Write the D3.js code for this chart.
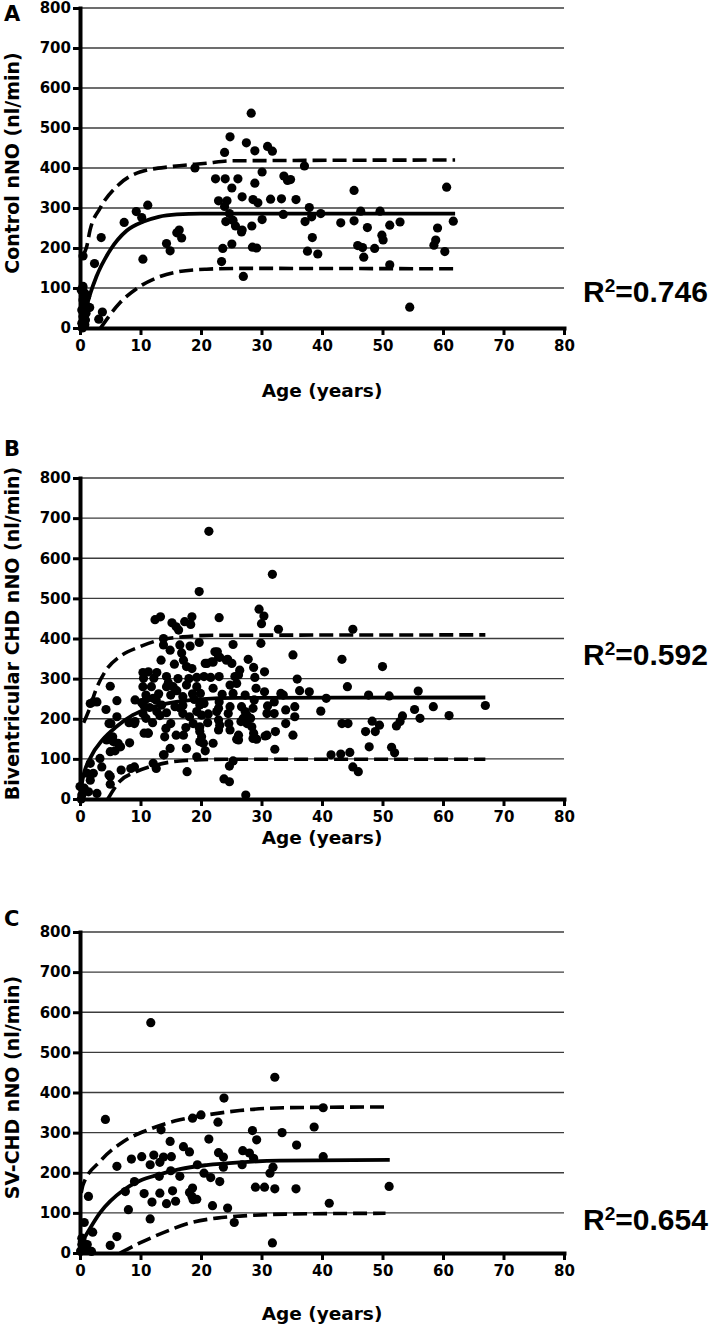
<!DOCTYPE html>
<html>
<head>
<meta charset="utf-8">
<script src="https://cdn.jsdelivr.net/npm/d3@7"></script>
<style>
  html, body { margin: 0; padding: 0; background: #fff; }
  svg { display: block; }
</style>
</head>
<body>
<svg id="chart" width="709" height="1327"></svg>
<script>
// ---------------- DATA ----------------
const xTicks = [0, 10, 20, 30, 40, 50, 60, 70, 80];
const yTicks = [0, 100, 200, 300, 400, 500, 600, 700, 800];
const panelLetters = ["A", "B", "C"];
const yTitles = ["Control nNO (nl/min)", "Biventricular CHD nNO (nl/min)", "SV-CHD nNO (nl/min)"];
const xTitle = "Age (years)";
const r2Values = ["0.746", "0.592", "0.654"];

// Panel A: Control  [age, nNO]
const controlPoints = [
  [28.3,537],[24.8,478],[27.5,463],[23.9,439],[28.9,443],[31.0,454],[31.8,442],[19.0,400],[37.1,405],
  [22.4,373],[24.0,373],[26.1,373],[25.1,350],[28.9,362],[30.1,390],[33.7,380],[34.3,369],[34.8,371],
  [22.9,318],[24.3,318],[23.9,304],[26.8,328],[28.6,321],[29.4,313],[31.5,322],[33.3,323],[35.7,321],
  [24.7,286],[25.3,269],[24.1,266],[25.7,255],[26.8,245],[26.7,240],[28.4,255],[30.1,271],[33.6,284],
  [23.6,199],[25.1,210],[28.5,202],[29.2,200],[23.4,166],[27.0,129],[37.2,266],[37.9,301],[38.3,278],
  [38.4,226],[37.6,192],[39.3,185],[39.8,286],[43.1,263],[45.3,344],[45.3,268],[46.4,292],[45.9,206],
  [46.7,201],[46.9,177],[47.5,251],[48.7,199],[49.6,292],[49.9,232],[50.1,220],[51.2,158],[51.2,257],
  [52.9,265],[54.5,52],[58.5,207],[58.8,220],[59.1,250],[60.3,191],[60.6,352],[61.7,267],
  [7.3,264],[9.3,291],[10.2,276],[11.2,307],[10.4,172],[14.3,211],[14.9,193],[16.0,238],[16.4,245],
  [16.8,225],[2.4,161],[3.5,226],[1.6,51],[3.1,22],[3.7,40],[0.5,180],[0.5,104],[0.8,87],[0.5,70],
  [1.2,54],[0.5,29],[0.3,12],[0.8,8],[1.0,37],[0.4,0],[1.1,79],[0.2,95],[0.6,60],[0.3,45],[0.9,20]
];
const controlFit   = [[0,0],[0.6,20],[1.2,60],[2.7,128],[5.0,195],[7.7,243],[10.5,266],[13,278],[16,284],[20,286],[62,286]];
const controlUpper = [[0.4,180],[1.1,203],[1.65,244],[3.3,299],[6.6,361],[9.9,390],[15.4,404],[20.9,412],[25,418],[62,420]];
const controlLower = [[3.4,0],[6.6,63],[9.9,104],[12.6,125],[16.4,141],[20.9,147],[26.4,149],[62,148]];

// Panel B: Biventricular CHD
const biventricularPoints = [
  [21.3,667],[31.8,560],[19.7,517],[29.6,473],[30.4,456],[30.0,437],[32.8,423],[45.1,423],[23.0,452],
  [18.5,454],[12.4,447],[13.3,454],[15.2,439],[15.9,429],[17.3,442],[18.3,435],[16.3,421],[13.8,400],
  [19.7,390],[25.3,385],[29.9,388],[13.8,384],[14.9,371],[16.5,384],[18.2,381],[22.7,367],[24.4,348],
  [23.1,353],[35.2,359],[43.3,348],[50.0,330],[28.7,328],[27.8,348],[13.4,346],[16.8,364],[17.1,346],
  [17.6,330],[18.5,325],[21.0,338],[22.0,341],[15.6,336],[30.5,317],[26.4,321],[35.9,299],[10.4,315],
  [11.3,317],[12.7,315],[10.5,301],[12.2,301],[14.3,305],[19.3,303],[20.5,305],[21.6,303],[23.0,305],
  [25.6,305],[28.9,303],[5.0,281],[10.4,280],[14.3,280],[15.4,280],[17.6,284],[19.3,280],[22.0,276],
  [24.8,284],[25.9,288],[29.1,276],[30.5,267],[36.3,270],[37.9,267],[44.2,280],[55.9,269],[10.9,259],
  [12.1,251],[15.0,259],[17.0,255],[19.9,263],[23.5,261],[25.3,263],[27.3,259],[33.2,263],[33.6,259],
  [40.7,251],[47.7,259],[51.1,257],[9.1,247],[12.6,247],[18.9,248],[23.0,242],[28.8,247],[32.1,242],
  [2.2,242],[1.7,238],[6.1,245],[2.8,242],[4.3,223],[10.5,234],[13.5,234],[15.7,230],[17.0,233],
  [19.8,234],[20.5,238],[22.9,226],[24.8,230],[26.7,230],[31.0,232],[35.5,230],[34.0,222],[39.8,219],
  [55.3,223],[58.4,230],[10.4,213],[12.7,218],[14.3,215],[17.0,213],[19.3,218],[20.1,209],[21.2,212],
  [22.6,218],[24.5,213],[27.3,218],[30.9,213],[32.1,213],[35.5,205],[53.3,207],[61.0,208],[56.2,201],
  [52.9,193],[9.1,193],[10.9,201],[5.1,188],[6.1,205],[8.1,190],[9.0,188],[18.1,205],[18.7,188],
  [19.7,178],[21.1,190],[22.9,197],[23.1,184],[24.6,188],[26.6,193],[27.6,188],[28.2,201],[43.3,188],
  [44.3,188],[48.3,194],[34.0,188],[49.5,184],[52.3,182],[10.6,164],[11.3,164],[14.2,176],[15.0,188],
  [15.9,159],[17.1,159],[19.8,168],[22.9,172],[24.8,172],[28.4,180],[28.7,164],[29.2,149],[30.9,159],
  [32.3,168],[35.2,159],[47.2,168],[48.8,168],[26.2,159],[26.2,147],[22.0,139],[19.8,143],[20.4,139],
  [17.6,126],[14.9,126],[20.7,120],[19.3,105],[13.8,110],[32.2,124],[41.5,110],[43.1,112],[44.6,116],
  [47.8,130],[51.5,129],[52.0,115],[5.5,143],[4.4,147],[6.3,139],[6.7,130],[5.0,118],[5.8,120],
  [8.2,140],[3.3,101],[3.6,80],[1.7,89],[1.2,64],[2.2,64],[1.7,47],[1.4,18],[2.8,14],[0.7,27],
  [0.3,10],[0.0,31],[6.8,72],[8.4,76],[9.0,80],[5.0,56],[5.0,37],[12.1,89],[12.6,76],[17.7,68],
  [24.7,82],[23.8,50],[24.7,43],[27.4,10],[45.1,80],[46.0,68],[25.3,95],[67.0,233],[4.8,188],
  [5.4,155],[4.8,60],[13.9,110],[11.2,164],[0.2,0],
  [20.7,338],[21.8,342],[22.3,367],[22.9,354],[24.2,346],[25.1,338],[26.2,309],[27.6,209],[27.0,201],
  [28.6,226],[30.6,157],[28.6,151],[25.9,149],[20.1,155],[19.8,180],
  [10.2,240],[11.5,228],[13.0,262],[14.6,290],[16.2,300],[11.8,280],[13.2,208],[16.0,270],[18.0,300],
  [12.0,190],[17.5,178],[14.0,155],[16.6,226],[18.6,262],[11.0,250]
];
const biventricularFit   = [[0,0],[0.4,47],[1.8,105],[3.7,147],[6.0,180],[8.7,209],[12.0,229],[15.9,242],[20.2,249],[26,252],[67,253]];
const biventricularUpper = [[0.6,190],[1.5,222],[2.6,271],[4.3,321],[6.5,354],[9.8,379],[13.1,396],[17,404],[22,408],[67,409]];
const biventricularLower = [[4.6,0],[6.5,43],[9.3,68],[12.6,85],[17.5,96],[24,99],[67,99]];

// Panel C: SV-CHD
const svPoints = [
  [11.7,574],[32.2,438],[23.8,386],[4.2,333],[40.2,362],[38.7,314],[33.4,300],[13.4,307],[28.5,305],
  [22.8,326],[18.6,336],[20.0,344],[35.8,269],[29.2,282],[21.3,284],[14.9,278],[17.1,265],[18.1,252],
  [22.9,250],[23.7,239],[26.9,255],[28.0,249],[28.7,236],[40.2,240],[6.1,216],[8.5,234],[10.2,240],
  [12.2,244],[11.6,220],[13.2,226],[13.8,239],[15.1,240],[15.0,205],[13.1,191],[16.5,191],[19.4,220],
  [20.5,199],[21.6,188],[23.7,214],[23.1,178],[26.8,220],[31.4,199],[31.9,214],[9.0,178],[10.6,148],
  [13.2,149],[15.3,155],[15.8,129],[14.3,123],[11.9,127],[18.1,151],[18.6,162],[18.5,141],[18.7,133],
  [19.3,134],[11.6,85],[21.9,118],[24.4,112],[25.5,76],[29.0,164],[30.5,164],[32.2,160],[35.7,160],
  [41.2,124],[51.1,166],[31.8,25],[7.5,153],[8.0,108],[6.1,41],[5.0,19],[1.4,141],[0.7,76],[2.1,52],
  [1.9,4],[1.2,21],[0.3,37],[0.3,21],[0.8,10],[0.1,5],[0.4,28]
];
const svFit   = [[0,20],[1,45],[3.3,100],[7.2,157],[9.9,180],[13.2,196],[16.5,209],[20.9,219],[26.4,226],[33,230],[51.2,232]];
const svUpper = [[0.2,150],[0.5,170],[3.3,228],[7.2,278],[11.6,309],[16.5,332],[20.9,344],[26.4,355],[33.6,362],[50.5,364]];
const svLower = [[6.6,0],[9.9,25],[14.3,54],[18.2,75],[22.6,87],[26.4,92],[34,97],[50.5,99]];

// ---------------- LAYOUT ----------------
const svg = d3.select("#chart");
const tickFont = "'DejaVu Sans', sans-serif";
const x = d3.scaleLinear().domain([0, 80]).range([80, 564]);

const panels = [
  { points: controlPoints, fit: controlFit, upper: controlUpper, lower: controlLower,
    top: 8, bottom: 328, letterY: 21, xTitleY: 397, r2Y: 302 },
  { points: biventricularPoints, fit: biventricularFit, upper: biventricularUpper, lower: biventricularLower,
    top: 478, bottom: 799, letterY: 456, xTitleY: 844, r2Y: 665 },
  { points: svPoints, fit: svFit, upper: svUpper, lower: svLower,
    top: 932, bottom: 1253, letterY: 926, xTitleY: 1320, r2Y: 1230 }
];

panels.forEach((p, i) => {
  const g = svg.append("g");
  const y = d3.scaleLinear().domain([0, 800]).range([p.bottom, p.top]);

  // gridlines
  g.append("g").selectAll("line").data(yTicks.filter(d => d > 0)).join("line")
    .attr("x1", x(0)).attr("x2", x(80))
    .attr("y1", d => y(d)).attr("y2", d => y(d))
    .attr("stroke", "#3c3c3c").attr("stroke-width", 1.3);

  // points
  g.append("g").selectAll("circle").data(p.points).join("circle")
    .attr("cx", d => x(d[0])).attr("cy", d => y(d[1])).attr("r", 4.6)
    .attr("fill", "#000");

  // fit lines
  const line = d3.line().x(d => x(d[0])).y(d => y(d[1])).curve(d3.curveMonotoneX);
  g.append("path").datum(p.fit).attr("d", line)
    .attr("fill", "none").attr("stroke", "#000").attr("stroke-width", 3.8);
  [p.upper, p.lower].forEach(arr => {
    g.append("path").datum(arr).attr("d", line)
      .attr("fill", "none").attr("stroke", "#000").attr("stroke-width", 3.6)
      .attr("stroke-dasharray", "14,6");
  });

  // axes
  const yAxis = d3.axisLeft(y).tickValues(yTicks).tickSize(7).tickSizeOuter(0).tickPadding(2);
  const ya = g.append("g").attr("transform", `translate(${x(0)},0)`).call(yAxis);
  const xAxis = d3.axisBottom(x).tickValues(xTicks).tickSize(7).tickSizeOuter(0).tickPadding(5);
  const xa = g.append("g").attr("transform", `translate(0,${p.bottom})`).call(xAxis);
  [ya, xa].forEach(a => {
    a.select(".domain").attr("stroke", "#000").attr("stroke-width", 4).attr("stroke-linecap", "square");
    a.selectAll(".tick line").attr("stroke", "#000").attr("stroke-width", 3);
    a.selectAll(".tick text").attr("fill", "#000")
      .style("font-family", tickFont).style("font-weight", "bold").style("font-size", "15px");
  });

  // titles
  g.append("text")
    .attr("transform", `translate(19,${(p.top + p.bottom) / 2 - 5}) rotate(-90)`)
    .attr("text-anchor", "middle")
    .style("font-family", tickFont).style("font-weight", "bold").style("font-size", "19px")
    .text(yTitles[i]);
  g.append("text")
    .attr("x", x(40)).attr("y", p.xTitleY).attr("text-anchor", "middle")
    .style("font-family", tickFont).style("font-weight", "bold").style("font-size", "18.5px")
    .text(xTitle);
  g.append("text")
    .attr("x", 4).attr("y", p.letterY)
    .style("font-family", tickFont).style("font-weight", "bold").style("font-size", "21px")
    .text(panelLetters[i]);
  const r2 = g.append("text")
    .attr("x", 583).attr("y", p.r2Y)
    .style("font-family", "'Liberation Sans', Arial, sans-serif").style("font-weight", "bold").style("font-size", "30px");
  r2.append("tspan").text("R");
  r2.append("tspan").attr("dy", -10).style("font-size", "19px").text("2");
  r2.append("tspan").attr("dy", 10).text("=" + r2Values[i]);
});
</script>
</body>
</html>
